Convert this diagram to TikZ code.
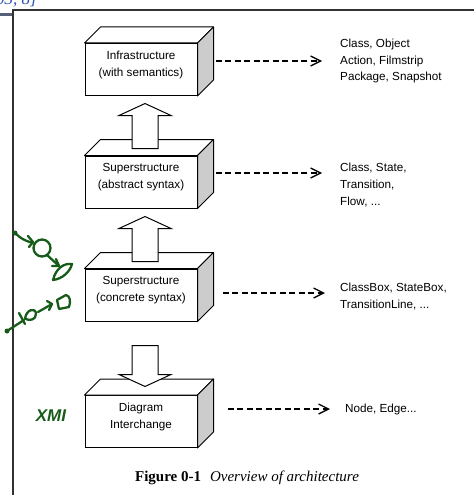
\documentclass[tikz,border=0pt]{standalone}
\usepackage{fontspec}
\setmainfont{Liberation Sans}
\newfontfamily\captionserif{Liberation Serif}
\usetikzlibrary{arrows.meta, positioning, calc}

\definecolor{sidegray}{RGB}{204,204,204}
\definecolor{framegray}{RGB}{50,50,50}
\definecolor{refblue}{RGB}{45,80,180}
\definecolor{stubblue}{RGB}{85,95,120}
\definecolor{inkgreen}{RGB}{22,92,24}

\begin{document}
\begin{tikzpicture}[
  x=1pt, y=-1pt,
  >={Straight Barb[length=10pt,width=10pt]},
  layerbox/.style={draw, fill=white, line width=1pt, minimum width=112pt, minimum height=52pt, inner sep=0pt, align=center, text depth=12.2pt, font=\fontsize{11.7}{16.8}\selectfont},
  face/.style={draw, fill=white, line width=1pt, line join=round},
  sideface/.style={face, fill=sidegray},
  blockarr/.style={draw, fill=white, line width=1pt},
  dep/.style={->, line width=1.3pt, dash pattern=on 6pt off 3.5pt},
  elems/.style={align=left, inner sep=0pt, anchor=west, font=\fontsize{11.7}{16.8}\selectfont},
  ink/.style={draw=inkgreen, line width=2.3pt, line cap=round, line join=round}
]
\useasboundingbox (0,0) rectangle (474,495);

% page frame
\draw[framegray, line width=2pt] (13,495) -- (13,10) -- (474,10);
\draw[stubblue, line width=2.5pt] (0,14.5) -- (12,14.5);
\node[font=\captionserif\itshape\fontsize{17}{17}\selectfont, text=refblue, anchor=base west, inner sep=0pt] (cite) at (-4,5) {03, 8]};

% layers
\node[layerbox] (infra) at (141,69.5) {Infrastructure\\(with semantics)};
\node[layerbox] (abst)  [below=59.5pt of infra] {Superstructure\\(abstract syntax)};
\node[layerbox] (conc)  [below=60pt of abst] {Superstructure\\(concrete syntax)};
\node[layerbox] (dix)   [below=73.5pt of conc] {Diagram\\Interchange};

\foreach \b in {infra,abst,conc,dix}{
  \draw[face] (\b.north west) -- ++(16pt,16pt) -- ([shift={(16pt,16pt)}]\b.north east) -- (\b.north east) -- cycle;
  \draw[sideface] (\b.north east) -- ++(16pt,16pt) -- ([shift={(16pt,16pt)}]\b.south east) -- (\b.south east) -- cycle;
}

% block arrows between layers
\coordinate (upA)   at ([shift={(4pt,7pt)}]abst.north);
\coordinate (upB)   at ([shift={(4pt,7pt)}]conc.north);
\coordinate (downC) at ([shift={(4pt,-24pt)}]conc.south);
\draw[blockarr] ([xshift=-13pt]upA) -- ++(0,-33) -- ++(-13,0) -- ++(26,-12) -- ++(26,12) -- ++(-13,0) -- ++(0,33) -- cycle;
\draw[blockarr] ([xshift=-13pt]upB) -- ++(0,-33) -- ++(-13,0) -- ++(26,-12) -- ++(26,12) -- ++(-13,0) -- ++(0,33) -- cycle;
\draw[blockarr] ([xshift=-13pt]downC) -- ++(0,29) -- ++(-13,0) -- ++(26,12) -- ++(26,-12) -- ++(-13,0) -- ++(0,-29) -- cycle;

% model elements
\node[elems] (lInfra) at (340,61)    {Class, Object\\Action, Filmstrip\\Package, Snapshot};
\node[elems] (lAbst)  at (340,185)   {Class, State,\\Transition,\\Flow, ...};
\node[elems] (lConc)  at (340,296.5) {ClassBox, StateBox,\\TransitionLine, ...};
\node[elems] (lDix)   at (345,409)   {Node, Edge...};

\coordinate (tipInfra) at (322,61);
\coordinate (tipAbst)  at (322,173);
\coordinate (tipConc)  at (325,293);
\coordinate (tipDix)   at (330,409);
\draw[dep] ($(infra.east |- tipInfra)+(18,0)$) -- (tipInfra);
\draw[dep] ($(abst.east |- tipAbst)+(18,0)$) -- (tipAbst);
\draw[dep] ($(conc.east |- tipConc)+(25,0)$) -- (tipConc);
\draw[dep] ($(dix.east |- tipDix)+(30,0)$) -- (tipDix);

% caption
\node[font=\captionserif\fontsize{15}{16}\selectfont, anchor=base] (caption) at (247,481.5)
  {\textbf{Figure 0-1}\hspace{9pt}\textit{Overview of architecture}};

% handwritten notes in the margin
\fill[inkgreen] (15,233) circle[radius=2.5];
\draw[ink] plot[smooth] coordinates {(15,233) (21,238) (27,241) (33,243)};
\draw[ink] (28,236) -- (33,242) -- (29,247);
\draw[ink] (42,248) ellipse[x radius=8.5, y radius=8.5];
\draw[ink] (47,255) -- (59,266);
\draw[ink] (56,259) -- (59,266) -- (52,266);
\draw[ink] (53,280) .. controls (56,268) and (64,263) .. (72,264) .. controls (70,272) and (62,279) .. cycle;
\fill[inkgreen] (7,331) circle[radius=2.5];
\draw[ink] (7,331) -- (24,320);
\draw[ink] (19,313) -- (25,324);
\draw[ink] (25,319) .. controls (26,309) and (36,307) .. (36,314) .. controls (36,320) and (29,321) .. (26,319);
\draw[ink] (38,312) -- (52,304);
\draw[ink] (47,301) -- (52,304) -- (49,310);
\draw[ink] (57,300) -- (59,309) -- (69,307) .. controls (71,301) and (70,296) .. (66,295) -- cycle;
\node[text=inkgreen, font=\bfseries\itshape\fontsize{17}{17}\selectfont, inner sep=0pt] (xmi) at (51,416) {XMI};
\end{tikzpicture}
\end{document}
